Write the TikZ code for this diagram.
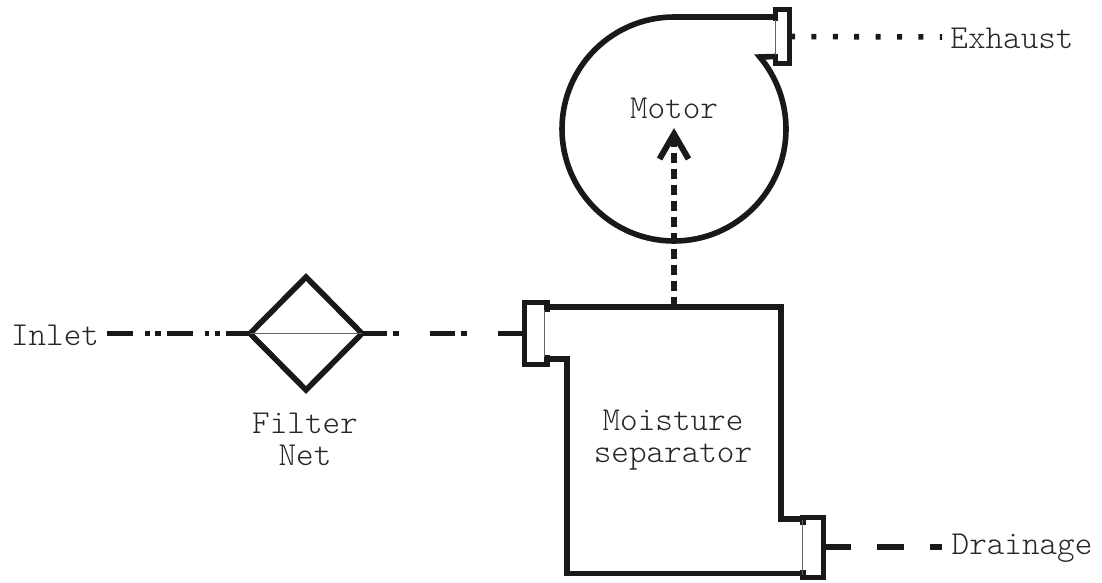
\documentclass[tikz,border=0pt]{standalone}
\usepackage{fontspec}
\setmonofont{Latin Modern Mono Light}
\usetikzlibrary{shapes.geometric,arrows.meta}
\tikzset{
  x=1pt,y=-1pt,
  wall/.style={line width=5.6pt,draw=black!90,line join=miter},
  thinwall/.style={line width=1.2pt,draw=black!60},
  lab/.style={font=\fontsize{33.5}{32}\selectfont\ttfamily,text=black!85,inner sep=0pt,align=center,anchor=center},
  port/.style={rectangle,inner sep=0pt,outer sep=0pt},
  filtershape/.style={diamond,draw=black!90,line width=5.6pt,aspect=1,inner sep=0pt,outer sep=0pt,minimum width=112pt,minimum height=113pt},
  inletflow/.style={wall,dash pattern=on 26pt off 12pt on 4.5pt off 5.5pt on 5.5pt off 6pt},
  filteredflow/.style={wall,dash pattern=on 25pt off 6pt on 6pt off 31pt},
  drainflow/.style={wall,dash pattern=on 27pt off 26pt on 27pt off 26pt on 12pt off 4pt},
  exhaustflow/.style={wall,dash pattern=on 5pt off 16.4pt},
  airflow/.style={wall,dash pattern=on 10.5pt off 5.5pt,-{Straight Barb[length=25pt,width=29pt,line width=6pt]}},
}
\begin{document}
\begin{tikzpicture}
\useasboundingbox (0,0) rectangle (1102,582);
% labels
\node[lab] (inlet) at (55,335) {Inlet};
\node[lab] (motor) at (674,108) {Motor};
\node[lab] (exhaust) at (1012,38) {Exhaust};
\node[lab] (filterlabel) at (305,439) {Filter\\Net};
\node[lab] (moisture) at (673,440) {Moisture\\separator};
\node[lab] (drainage) at (1022,548) {Drainage};
% filter
\node[filtershape] (filter) at (306,333.5) {};
\draw[thinwall] (filter.west) -- (filter.east);
% ports
\node[port,minimum width=21pt,minimum height=62pt] (pe) at (782.5,36.5) {};
\node[port,minimum width=21pt,minimum height=63pt] (pi) at (534,333.5) {};
\node[port,minimum width=21pt,minimum height=62pt] (pd) at (813.5,547) {};
\coordinate (exstart) at (pe.east);
\coordinate (exend) at (942,37);
\coordinate (inletstart) at (107,333.5);
\coordinate (drainend) at (942,547);
\coordinate (boxtop) at (674,307);
\coordinate (motorin) at (674,128);
% fan volute
\draw[wall] (775,17) -- (674,17) arc[start angle=90,delta angle=310,radius=112pt] -- (775,56.5);
\draw[wall] (775.5,21) -- (775.5,9.5) -- (789.5,9.5) -- (789.5,63.5) -- (775.5,63.5) -- (775.5,54);
\draw[thinwall] (775.5,20) -- (775.5,55);
% separator
\draw[wall] (546,307) -- (781,307) -- (781,519) -- (803,519);
\draw[wall] (546,359) -- (567,359) -- (567,573.5) -- (803,573.5);
\draw[wall] (547,312) -- (547,302.5) -- (524.5,302.5) -- (524.5,364.5) -- (547,364.5) -- (547,355);
\draw[thinwall] (544.5,310) -- (544.5,357);
\draw[wall] (803,525) -- (803,517.5) -- (823.5,517.5) -- (823.5,577.5) -- (803,577.5) -- (803,570);
\draw[thinwall] (802.5,520) -- (802.5,575);
% flows
\draw[inletflow] (inletstart) -- (filter.west);
\draw[filteredflow] (filter.east) -- (pi.west);
\draw[drainflow] (pd.east) -- (drainend);
\draw[exhaustflow] (exstart) ++(-3,0) -- (exend);
\draw[airflow] (boxtop) -- (motorin);
\end{tikzpicture}
\end{document}
